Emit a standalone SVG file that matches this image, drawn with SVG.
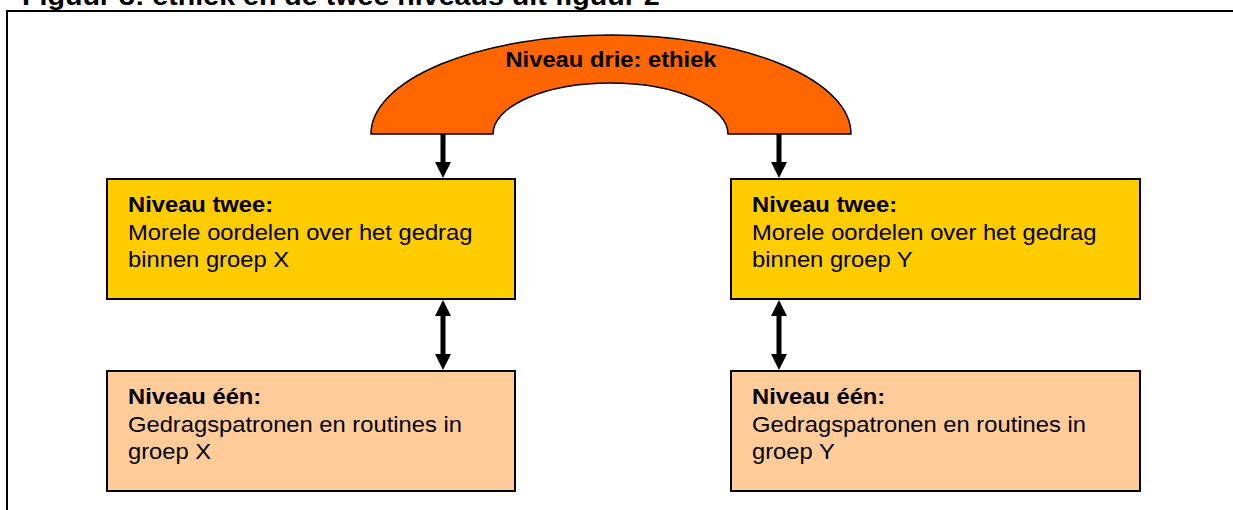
<svg xmlns="http://www.w3.org/2000/svg" width="1233" height="510" viewBox="0 0 1233 510">
<style>
.t{font-family:"Liberation Sans",Arial,sans-serif;font-size:22px;fill:#000}
.b{font-weight:bold}
.box{stroke:#000;stroke-width:2}
.c{stroke:#000;stroke-width:5;fill:none}
</style>
<defs>
<marker id="ah" viewBox="0 0 16 16" refX="8" refY="8" markerWidth="16" markerHeight="16" markerUnits="userSpaceOnUse" orient="auto-start-reverse">
<path d="M0,0 L16,8 L0,16 Z" fill="#000"/>
</marker>
</defs>
<rect width="1233" height="510" fill="#fff"/>
<g id="title">
<text class="t b" transform="translate(22,5) scale(1.08,1)" style="font-size:26.5px">Figuur 3: ethiek en de twee niveaus uit figuur 2</text>
</g>
<path d="M6,11 H1233 M7,11 V510" stroke="#000" stroke-width="2" fill="none"/>
<g id="niveau3">
<path d="M371,134 A240,99 0 0 1 851,134 L728,134 A117.5,51 0 0 0 493,134 Z" fill="#FF6600" stroke="#000" stroke-width="1.5"/>
<text class="t b" transform="translate(611,67) scale(1.08,1)" text-anchor="middle">Niveau drie: ethiek</text>
</g>
<g id="n2x">
<rect class="box" x="107" y="179" width="408" height="120" fill="#FFCC00"/>
<g class="t" transform="translate(128,212) scale(1.08,1)">
<text class="b">Niveau twee:</text>
<text y="28">Morele oordelen over het gedrag</text>
<text y="55">binnen groep X</text>
</g>
</g>
<g id="n2y">
<rect class="box" x="731" y="179" width="409" height="120" fill="#FFCC00"/>
<g class="t" transform="translate(752,212) scale(1.08,1)">
<text class="b">Niveau twee:</text>
<text y="28">Morele oordelen over het gedrag</text>
<text y="55">binnen groep Y</text>
</g>
</g>
<g id="n1x">
<rect class="box" x="107" y="371" width="408" height="120" fill="#FFCC99"/>
<g class="t" transform="translate(128,404) scale(1.08,1)">
<text class="b">Niveau één:</text>
<text y="28">Gedragspatronen en routines in</text>
<text y="55">groep X</text>
</g>
</g>
<g id="n1y">
<rect class="box" x="731" y="371" width="409" height="120" fill="#FFCC99"/>
<g class="t" transform="translate(752,404) scale(1.08,1)">
<text class="b">Niveau één:</text>
<text y="28">Gedragspatronen en routines in</text>
<text y="55">groep Y</text>
</g>
</g>
<g id="connectors">
<line class="c" x1="443" y1="134" x2="443" y2="170" marker-end="url(#ah)"/>
<line class="c" x1="779" y1="134" x2="779" y2="170" marker-end="url(#ah)"/>
<line class="c" x1="443" y1="308" x2="443" y2="362" marker-start="url(#ah)" marker-end="url(#ah)"/>
<line class="c" x1="779" y1="308" x2="779" y2="362" marker-start="url(#ah)" marker-end="url(#ah)"/>
</g>
</svg>
